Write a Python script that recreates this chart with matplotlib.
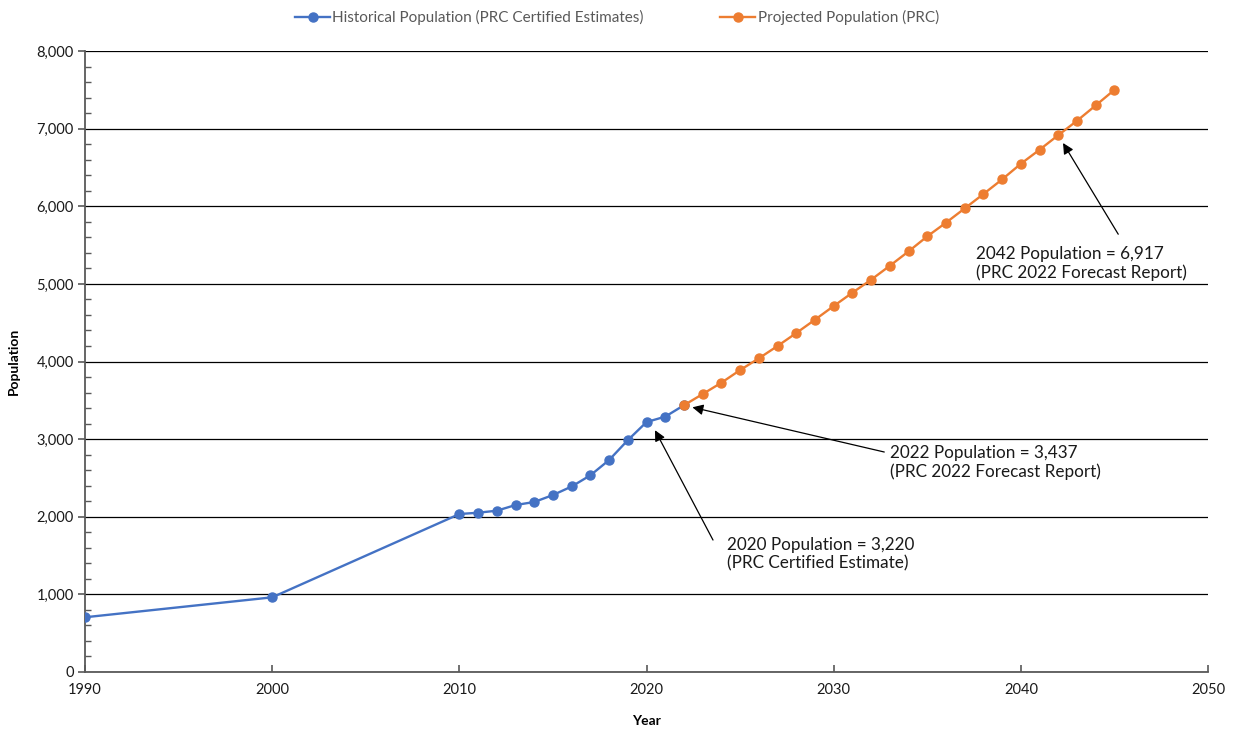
import matplotlib.pyplot as plt
from matplotlib.ticker import FuncFormatter, MultipleLocator

plt.rcParams['font.family'] = ['Lato', 'DejaVu Sans']

# historical population (PRC certified estimates)
hist_years = [1990, 2000, 2010, 2011, 2012, 2013, 2014, 2015, 2016, 2017,
              2018, 2019, 2020, 2021, 2022]
hist_pop = [705, 962, 2035, 2052, 2078, 2151, 2190, 2280, 2390, 2534,
            2731, 2987, 3220, 3290, 3437]

# projected population (PRC)
proj_years = list(range(2022, 2046))
proj_pop = [3437, 3581, 3727, 3890, 4041, 4200, 4367, 4539, 4715, 4887,
            5054, 5234, 5419, 5613, 5789, 5973, 6158, 6347, 6548, 6729,
            6917, 7102, 7300, 7501]

# annotations: label, (text x, text y), (arrow tail), (arrow tip)
notes = [
    ("2042 Population = 6,917\n(PRC 2022 Forecast Report)", (2037.6, 5490), (2045.2, 5640), (2042.25, 6815)),
    ("2022 Population = 3,437\n(PRC 2022 Forecast Report)", (2033.0, 2925), (2032.7, 2834), (2022.45, 3410)),
    ("2020 Population = 3,220\n(PRC Certified Estimate)", (2024.3, 1740), (2023.55, 1700), (2020.45, 3115)),
]

blue = '#4472C4'
orange = '#ED7D31'
axis_grey = '#595959'

fig = plt.figure(figsize=(12.34, 7.29), dpi=100)
ax = fig.add_axes([0.0689, 0.0782, 0.9101, 0.8518])

ax.plot(hist_years, hist_pop, color=blue, lw=1.7, marker='o', ms=6.5,
        label='Historical Population (PRC Certified Estimates)', zorder=3)
ax.plot(proj_years, proj_pop, color=orange, lw=1.7, marker='o', ms=6.5,
        label='Projected Population (PRC)', zorder=4)

ax.set_xlim(1990, 2050)
ax.set_ylim(0, 8000)
ax.xaxis.set_major_locator(MultipleLocator(10))
ax.yaxis.set_major_locator(MultipleLocator(1000))
ax.yaxis.set_minor_locator(MultipleLocator(200))
ax.yaxis.set_major_formatter(FuncFormatter(lambda v, p: f'{int(v):,}'))

ax.grid(axis='y', which='major', color='black', lw=0.9)
ax.set_axisbelow(True)
for s in ['top', 'right']:
    ax.spines[s].set_visible(False)
for s in ['left', 'bottom']:
    ax.spines[s].set_color(axis_grey)
    ax.spines[s].set_linewidth(1.3)

ax.tick_params(axis='y', which='major', direction='out', length=5, color=axis_grey,
               width=1.2, labelsize=10.5, pad=3, labelcolor='#1a1a1a')
ax.tick_params(axis='y', which='minor', direction='in', length=4, color=axis_grey, width=1.0)
ax.tick_params(axis='x', which='major', direction='in', length=5, color=axis_grey,
               width=1.2, labelsize=10.5, pad=8, labelcolor='#1a1a1a')

ax.set_xlabel('Year', fontweight='bold', fontsize=10, labelpad=13)
ax.set_ylabel('Population', fontweight='bold', fontsize=10, labelpad=12)

for label, txt, tail, tip in notes:
    ax.annotate('', xy=tip, xytext=tail,
                arrowprops=dict(arrowstyle='-|>', color='black', lw=0.9,
                                mutation_scale=16, shrinkA=0, shrinkB=0),
                zorder=6)
    ax.text(txt[0], txt[1], label, fontsize=12.3, va='top', ha='left',
            linespacing=1.2, zorder=5, color='#1a1a1a',
            bbox=dict(facecolor='white', edgecolor='none', pad=1))

fig.legend(loc='upper center', bbox_to_anchor=(0.5, 1.005), ncol=2, frameon=False,
           fontsize=11, handlelength=2.3, columnspacing=5.0, handletextpad=0.15,
           labelcolor=axis_grey)

fig.savefig('out.png', dpi=100)
